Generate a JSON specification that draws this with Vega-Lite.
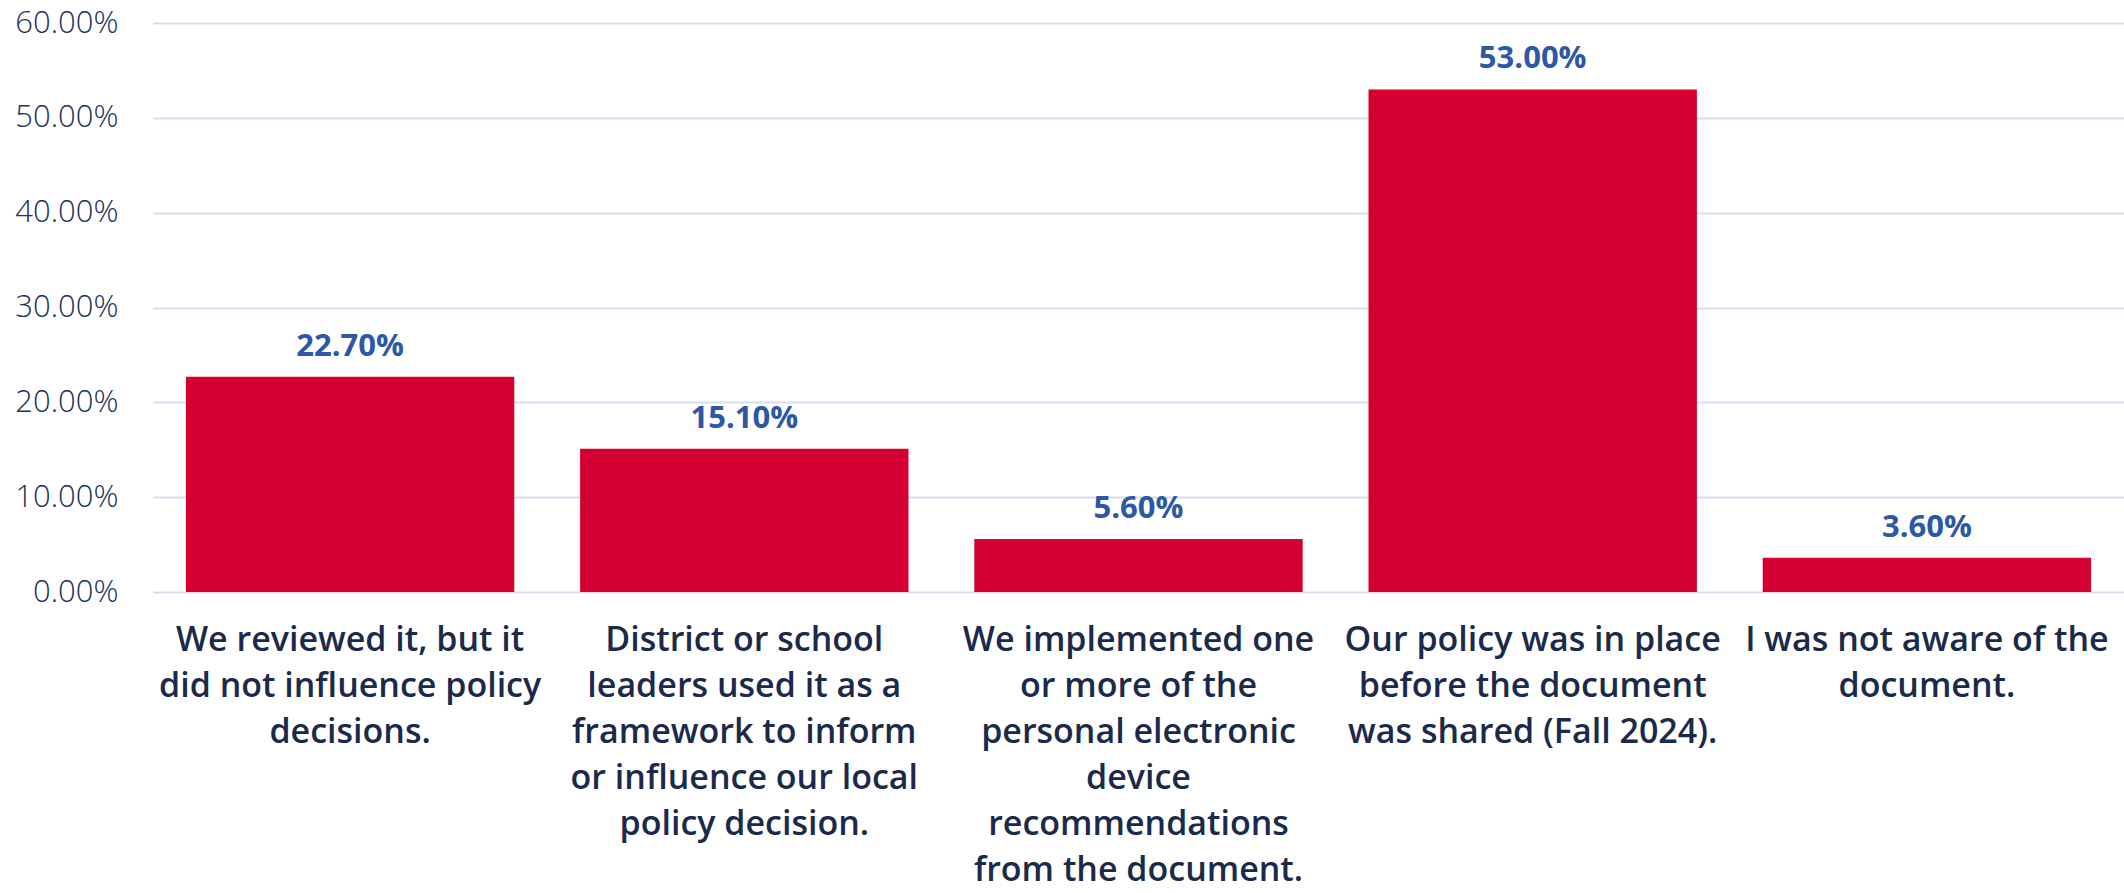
{
  "$schema": "https://vega.github.io/schema/vega-lite/v6.json",
  "autosize": {"type": "none"},
  "padding": {"left": 153, "top": 23, "right": 0, "bottom": 301},
  "width": 1971,
  "height": 569,
  "background": "white",
  "config": {"view": {"stroke": null}},
  "data": {
    "values": [
      {"response": "We reviewed it, but it|did not influence policy|decisions.", "share": 0.227},
      {"response": "District or school|leaders used it as a|framework to inform|or influence our local|policy decision.", "share": 0.151},
      {"response": "We implemented one|or more of the|personal electronic|device|recommendations|from the document.", "share": 0.056},
      {"response": "Our policy was in place|before the document|was shared (Fall 2024).", "share": 0.53},
      {"response": "I was not aware of the|document.", "share": 0.036}
    ]
  },
  "encoding": {
    "x": {
      "field": "response",
      "type": "nominal",
      "sort": null,
      "scale": {"paddingInner": 0.167, "paddingOuter": 0.0835},
      "axis": {
        "title": null,
        "labelAngle": 0,
        "labelExpr": "split(datum.value, '|')",
        "labelFont": "Open Sans",
        "labelFontWeight": 600,
        "labelFontSize": 34,
        "labelColor": "#1B2A4A",
        "labelLineHeight": 46,
        "labelBaseline": "top",
        "labelPadding": 31,
        "labelLimit": 0,
        "ticks": false,
        "domain": false
      }
    },
    "y": {
      "field": "share",
      "type": "quantitative",
      "scale": {"domain": [0, 0.6], "nice": false},
      "axis": {
        "title": null,
        "values": [0, 0.1, 0.2, 0.3, 0.4, 0.5, 0.6],
        "format": ".2%",
        "labelFont": "Open Sans",
        "labelFontWeight": 300,
        "labelFontSize": 31,
        "labelColor": "#22325A",
        "labelPadding": 35,
        "ticks": false,
        "domain": false,
        "gridColor": "#D3DEF0",
        "gridWidth": 2
      }
    }
  },
  "layer": [
    {"mark": {"type": "bar", "color": "#D50032"}},
    {
      "mark": {
        "type": "text",
        "baseline": "bottom",
        "dy": -14,
        "font": "Open Sans",
        "fontWeight": "bold",
        "fontSize": 31,
        "color": "#2C58A5"
      },
      "encoding": {"text": {"field": "share", "type": "quantitative", "format": ".2%"}}
    }
  ]
}
